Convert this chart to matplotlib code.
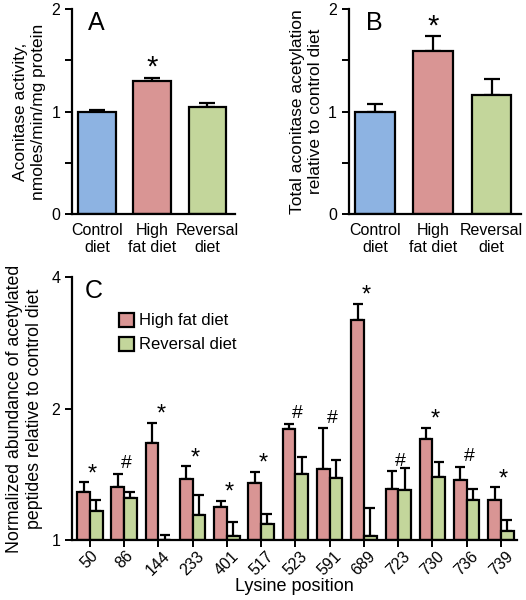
import matplotlib
matplotlib.use("Agg")
import matplotlib.pyplot as plt
import numpy as np
from matplotlib.ticker import NullLocator, FixedLocator, FixedFormatter

plt.rcParams['font.family'] = ['Liberation Sans', 'DejaVu Sans']

# ---------------- data ----------------
diet_labels = ["Control\ndiet", "High\nfat diet", "Reversal\ndiet"]
activity = [1.00, 1.295, 1.042]
activity_err = [0.02, 0.036, 0.046]
acetylation = [1.00, 1.59, 1.16]
acetylation_err = [0.07, 0.145, 0.158]

lysine_pos = ["50", "86", "144", "233", "401", "517", "523", "591", "689",
              "723", "730", "736", "739"]
hf_vals = [1.29, 1.322, 1.669, 1.381, 1.192, 1.348, 1.797, 1.451, 3.20,
           1.306, 1.702, 1.372, 1.237]
hf_err = [0.065, 0.098, 0.183, 0.093, 0.038, 0.085, 0.051, 0.352, 0.27,
          0.130, 0.108, 0.099, 0.083]
rev_vals = [1.163, 1.25, 1.0, 1.139, 1.023, 1.086, 1.415, 1.388, 1.019,
            1.301, 1.391, 1.232, 1.047]
rev_err = [0.071, 0.035, 0.028, 0.128, 0.078, 0.063, 0.133, 0.136, 0.162,
           0.160, 0.119, 0.080, 0.064]
marks = ["*", "#", "*", "*", "*", "*", "#", "#", "*", "#", "*", "#", "*"]

blue = "#8DB3E2"
red = "#D99594"
green = "#C3D69B"

fig = plt.figure(figsize=(5.26, 6.0), dpi=100)

def style_axes(ax):
    for s in ["top", "right"]:
        ax.spines[s].set_visible(False)
    for s in ["left", "bottom"]:
        ax.spines[s].set_linewidth(1.6)
    ax.tick_params(which="both", direction="out", length=5, width=1.4,
                   labelsize=11.5)

def top_panel(rect, vals, errs, ylabel, letter):
    ax = fig.add_axes(rect)
    x = np.arange(len(vals))
    ax.bar(x, vals, width=0.68, color=[blue, red, green], edgecolor="black",
           linewidth=1.6, zorder=2)
    ax.errorbar(x, vals, yerr=[np.zeros(len(vals)), errs], fmt="none",
                ecolor="black", elinewidth=1.6, capsize=6, capthick=1.6, zorder=1)
    ax.set_ylim(0, 2)
    ax.set_xlim(-0.45, 2.5)
    ax.yaxis.set_major_locator(FixedLocator([0, 1, 2]))
    ax.yaxis.set_minor_locator(FixedLocator([0.5, 1.5]))
    ax.set_xticks(x)
    ax.set_xticklabels(diet_labels, fontsize=11.5)
    style_axes(ax)
    ax.tick_params(axis="x", length=0, pad=6)
    ax.set_ylabel(ylabel, fontsize=12.5, labelpad=4)
    ax.text(0.1, 0.99, letter, transform=ax.transAxes, fontsize=18,
            va="top", ha="left")
    ax.annotate("*", (1, vals[1] + errs[1]), xytext=(0, -3),
                textcoords="offset points", ha="center", va="bottom",
                fontsize=21)
    return ax

axA = top_panel([0.137, 0.643, 0.31, 0.342], activity, activity_err,
                "Aconitase activity,\nnmoles/min/mg protein", "A")
axB = top_panel([0.663, 0.643, 0.327, 0.342], acetylation, acetylation_err,
                "Total aconitase acetylation\nrelative to control diet", "B")

# ---------------- panel C ----------------
axC = fig.add_axes([0.137, 0.10, 0.846, 0.438])
axC.set_yscale("log", base=2)
x = np.arange(len(lysine_pos))
w = 0.37
hf = np.array(hf_vals)
rv = np.array(rev_vals)
axC.bar(x - w, hf - 1, bottom=1, width=w, align="edge", color=red,
        edgecolor="black", linewidth=1.6, label="High fat diet", zorder=2)
axC.bar(x, rv - 1, bottom=1, width=w, align="edge", color=green,
        edgecolor="black", linewidth=1.6, label="Reversal diet", zorder=2)
axC.errorbar(x - w / 2, hf, yerr=[np.zeros(len(hf)), hf_err], fmt="none",
             ecolor="black", elinewidth=1.6, capsize=3.5, capthick=1.6, zorder=1)
axC.errorbar(x + w / 2, rv, yerr=[np.zeros(len(rv)), rev_err], fmt="none",
             ecolor="black", elinewidth=1.6, capsize=3.5, capthick=1.6, zorder=1)
for xi, m, v, e in zip(x, marks, hf, hf_err):
    axC.annotate(m, (xi + 0.07, v + e), xytext=(0, 1 if m == "#" else -2),
                 textcoords="offset points", ha="center", va="bottom",
                 fontsize=17 if m == "*" else 14)
axC.set_ylim(1, 4)
axC.set_xlim(-0.52, 12.47)
axC.yaxis.set_major_locator(FixedLocator([1, 2, 4]))
axC.yaxis.set_major_formatter(FixedFormatter(["1", "2", "4"]))
axC.yaxis.set_minor_locator(NullLocator())
axC.set_xticks(x)
axC.set_xticklabels(lysine_pos, rotation=45, ha="center", fontsize=11.5)
style_axes(axC)
axC.tick_params(axis="x", pad=1)
axC.set_xlabel("Lysine position", fontsize=13, labelpad=0)
axC.set_ylabel("Normalized abundance of acetylated\npeptides relative to control diet",
               fontsize=12.8, labelpad=6)
axC.text(0.028, 0.995, "C", transform=axC.transAxes, fontsize=18,
         va="top", ha="left")
leg = axC.legend(loc="upper left", bbox_to_anchor=(0.09, 0.89), frameon=False,
                 fontsize=12, handlelength=0.9, handleheight=0.9,
                 handletextpad=0.3, labelspacing=0.5, borderaxespad=0)

fig.savefig("out.png", dpi=100)
